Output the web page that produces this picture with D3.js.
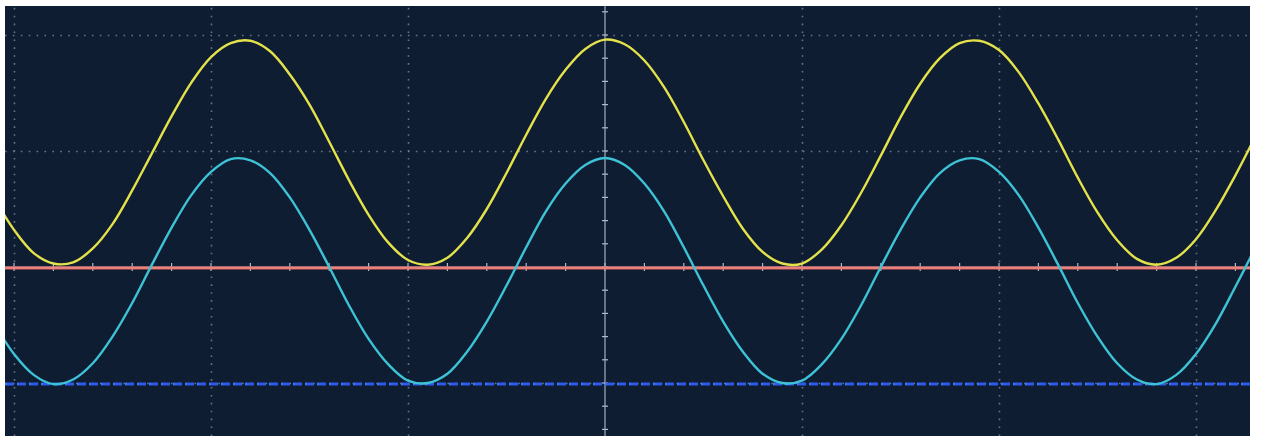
<!DOCTYPE html>
<html>
<head>
<meta charset="utf-8">
<script src="https://cdn.jsdelivr.net/npm/d3@7"></script>
<style>
  html, body { margin: 0; padding: 0; background: #ffffff; }
  svg { display: block; }
</style>
</head>
<body>
<svg id="chart" width="1261" height="437"></svg>
<script>
// ---- data (time in divisions, amplitude in divisions) ----
const timeDiv = [-3.1,-3.0,-2.9,-2.8,-2.7,-2.6,-2.5,-2.4,-2.3,-2.2,-2.1,-2.0,-1.9,-1.8,-1.7,-1.6,-1.5,-1.4,-1.3,-1.2,-1.1,-1.0,-0.9,-0.8,-0.7,-0.6,-0.5,-0.4,-0.3,-0.2,-0.1,0.0,0.1,0.2,0.3,0.4,0.5,0.6,0.7,0.8,0.9,1.0,1.1,1.2,1.3,1.4,1.5,1.6,1.7,1.8,1.9,2.0,2.1,2.2,2.3,2.4,2.5,2.6,2.7,2.8,2.9,3.0,3.1,3.2,3.3];
const ch1Yellow = [0.59,0.32,0.12,0.03,0.04,0.16,0.37,0.66,0.98,1.30,1.59,1.81,1.93,1.95,1.86,1.66,1.40,1.08,0.75,0.45,0.21,0.06,0.02,0.08,0.25,0.50,0.81,1.14,1.45,1.70,1.88,1.96,1.92,1.78,1.55,1.25,0.92,0.61,0.33,0.13,0.03,0.03,0.15,0.36,0.64,0.96,1.29,1.58,1.80,1.93,1.95,1.87,1.68,1.41,1.10,0.77,0.47,0.23,0.07,0.02,0.08,0.24,0.49,0.79,1.12];
const ch2Cyan = [-0.49,-0.75,-0.93,-1.01,-0.97,-0.83,-0.60,-0.31,0.02,0.34,0.62,0.82,0.93,0.92,0.81,0.60,0.32,0.00,-0.33,-0.62,-0.84,-0.98,-1.00,-0.92,-0.73,-0.47,-0.16,0.17,0.48,0.72,0.88,0.94,0.88,0.72,0.48,0.17,-0.16,-0.47,-0.73,-0.92,-1.00,-0.98,-0.84,-0.62,-0.33,0.00,0.32,0.60,0.81,0.92,0.93,0.82,0.62,0.34,0.02,-0.31,-0.60,-0.83,-0.97,-1.01,-0.93,-0.75,-0.49,-0.17,0.16];
const refRedLevel = 0;     // red reference marker
const refBlueLevel = -1;   // blue reference marker
const gridXTicks = [-3,-2,-1,0,1,2,3];
const gridYTicks = [-1,0,1,2];

// ---- layout ----
const svg = d3.select("#chart");
const screen = {x0: 5, x1: 1250, y0: 6, y1: 436};
const x = d3.scaleLinear().domain([-3, 3]).range([14, 1196]);
const y = d3.scaleLinear().domain([-1, 2]).range([383, 35]);

svg.append("defs").append("clipPath").attr("id","scr")
  .append("rect").attr("x",screen.x0).attr("y",screen.y0)
  .attr("width",screen.x1-screen.x0).attr("height",screen.y1-screen.y0);

svg.append("rect").attr("x",screen.x0).attr("y",screen.y0)
  .attr("width",screen.x1-screen.x0).attr("height",screen.y1-screen.y0)
  .attr("fill","#0f1d33");

const g = svg.append("g").attr("clip-path","url(#scr)");

// dotted grid via axes
const gridColor = "#8393a8";
const xGrid = d3.axisBottom(x).tickValues(gridXTicks.filter(d => d !== 0))
  .tickSize(-(screen.y1 - screen.y0)).tickFormat("");
g.append("g").attr("transform",`translate(0,${screen.y1})`).call(xGrid)
  .call(s => s.select(".domain").remove())
  .selectAll("line").attr("stroke",gridColor).attr("stroke-width",1.6)
  .attr("stroke-dasharray","1.6,6.3").attr("opacity",0.75);

const yGrid = d3.axisLeft(y).tickValues(gridYTicks.filter(d => d !== 0))
  .tickSize(-(screen.x1 - screen.x0)).tickFormat("");
g.append("g").attr("transform",`translate(${screen.x0},0)`).call(yGrid)
  .call(s => s.select(".domain").remove())
  .selectAll("line").attr("stroke",gridColor).attr("stroke-width",1.6)
  .attr("stroke-dasharray","1.6,6.3").attr("opacity",0.75);

// center crosshair
g.append("line").attr("x1",x(0)).attr("x2",x(0)).attr("y1",screen.y0).attr("y2",screen.y1)
  .attr("stroke","#9aa6b6").attr("stroke-width",1.5).attr("opacity",0.85);
g.append("line").attr("x1",screen.x0).attr("x2",screen.x1).attr("y1",y(0)).attr("y2",y(0))
  .attr("stroke","#9aa6b6").attr("stroke-width",1.5).attr("opacity",0.85);
const minorV = d3.range(-2, 3.01, 0.2);
g.selectAll(".mtv").data(minorV).join("line")
  .attr("x1",x(0)-3).attr("x2",x(0)+3).attr("y1",d=>y(d)).attr("y2",d=>y(d))
  .attr("stroke","#b0bac8").attr("stroke-width",1.2);
const minorH = d3.range(-3.2, 3.41, 0.2);
g.selectAll(".mth").data(minorH).join("line")
  .attr("y1",y(0)-4).attr("y2",y(0)+4).attr("x1",d=>x(d)).attr("x2",d=>x(d))
  .attr("stroke","#b0bac8").attr("stroke-width",1.2);

// reference levels
g.append("line").attr("x1",screen.x0).attr("x2",screen.x1)
  .attr("y1",y(refRedLevel)+1).attr("y2",y(refRedLevel)+1)
  .attr("stroke","#e4615a").attr("stroke-width",3);
g.append("line").attr("x1",screen.x0).attr("x2",screen.x1)
  .attr("y1",y(refRedLevel)+1).attr("y2",y(refRedLevel)+1)
  .attr("stroke","#f4a09a").attr("stroke-width",1);
g.append("line").attr("x1",screen.x0).attr("x2",screen.x1)
  .attr("y1",y(refBlueLevel)+1).attr("y2",y(refBlueLevel)+1)
  .attr("stroke","#2b5be8").attr("stroke-width",3).attr("stroke-dasharray","9,3");
g.append("line").attr("x1",screen.x0).attr("x2",screen.x1)
  .attr("y1",y(refBlueLevel)+1).attr("y2",y(refBlueLevel)+1)
  .attr("stroke","#5d86ff").attr("stroke-width",1).attr("stroke-dasharray","2,10");

// traces
const line = d3.line().x((d,i)=>x(timeDiv[i])).y(d=>y(d)).curve(d3.curveCatmullRom.alpha(0.5));
g.append("path").datum(ch2Cyan).attr("d",line).attr("fill","none")
  .attr("stroke","#3ec3d6").attr("stroke-width",2.4);
g.append("path").datum(ch1Yellow).attr("d",line).attr("fill","none")
  .attr("stroke","#e3e24a").attr("stroke-width",2.4);
</script>
</body>
</html>
